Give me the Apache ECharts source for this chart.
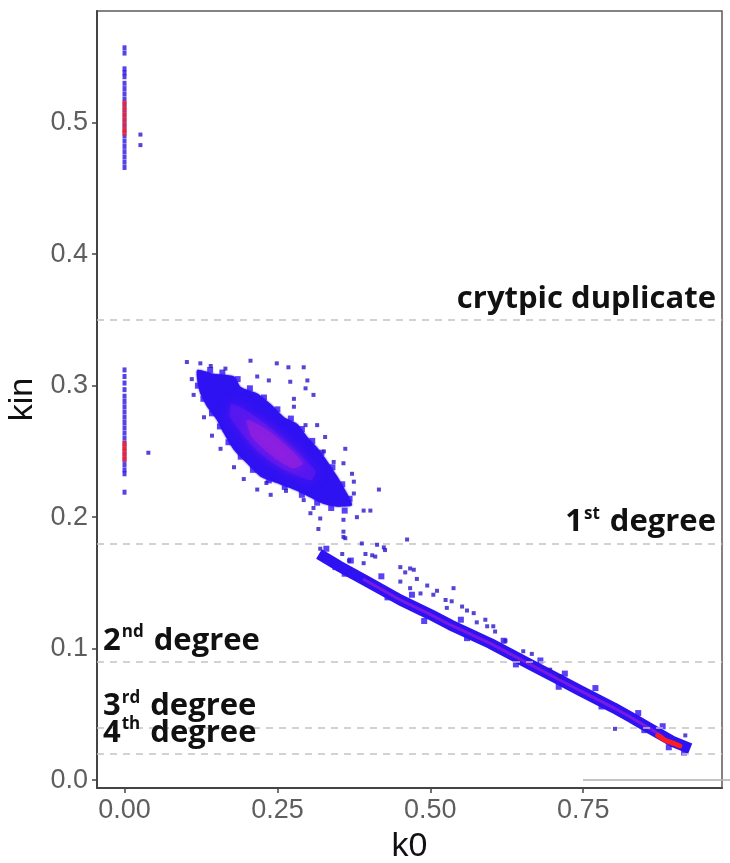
<!DOCTYPE html>
<html><head><meta charset="utf-8">
<script src="https://cdn.jsdelivr.net/npm/echarts@6/dist/echarts.min.js"></script>
<style>html,body{margin:0;padding:0;background:#fff;overflow:hidden}#c{width:730px;height:863px}</style>
</head><body><div id="c"></div>
<script>
// ---- data ----
const xTicks = [0, 0.25, 0.5, 0.75];
const yTicks = [0, 0.1, 0.2, 0.3, 0.4, 0.5];
const thresholds = [0.354, 0.177, 0.0884, 0.0442, 0.0221];
const thresholdLabels = [
  '{b|crytpic duplicate}',
  '{b|1}{s|st}{b| degree}',
  '{b|2}{s|nd}{b| degree}',
  '{b|3}{s|rd}{b| degree}',
  '{b|4}{s|th}{b| degree}'
];
const thresholdSide = ['end', 'end', 'start', 'start', 'start'];

// vertical strips at k0 = 0
const stripBlue = [[0,0.557],[0,0.553],[0,0.541],[0,0.538],[0,0.535],[0,0.530],[0,0.526],[0,0.522],[0,0.518],[0,0.514],[0,0.510],[0,0.506],[0,0.502],[0,0.498],[0,0.494],[0,0.490],[0,0.486],[0,0.482],[0,0.478],[0,0.474],[0,0.470],[0,0.466],
  [0,0.312],[0,0.307],[0,0.302],[0,0.297],[0,0.292],[0,0.288],[0,0.284],[0,0.280],[0,0.276],[0,0.272],[0,0.268],[0,0.264],[0,0.260],[0,0.256],[0,0.252],[0,0.248],[0,0.244],[0,0.240],[0,0.236],[0,0.233],[0,0.219]];
const stripRed = [[0,0.515],[0,0.511],[0,0.507],[0,0.503],[0,0.499],[0,0.495],[0,0.492],
  [0,0.256],[0,0.253],[0,0.250],[0,0.247],[0,0.244]];

// dense cloud (k0 0.12-0.38) outline, core and inner core
const cloudOutline = [[0.119,0.312],[0.146,0.309],[0.179,0.307],[0.190,0.299],[0.217,0.294],[0.239,0.286],[0.261,0.276],[0.282,0.271],[0.299,0.261],[0.315,0.253],[0.331,0.243],[0.348,0.231],[0.364,0.218],[0.372,0.209],
  [0.348,0.208],[0.326,0.210],[0.304,0.215],[0.277,0.221],[0.249,0.226],[0.222,0.231],[0.200,0.241],[0.179,0.251],[0.162,0.264],[0.151,0.274],[0.135,0.284],[0.124,0.294],[0.119,0.304]];
const cloudCore = [[0.175,0.286],[0.200,0.281],[0.230,0.271],[0.260,0.259],[0.290,0.246],[0.312,0.235],[0.305,0.228],[0.280,0.232],[0.250,0.239],[0.220,0.249],[0.195,0.262],[0.172,0.277]];
const cloudInner = [[0.200,0.274],[0.235,0.266],[0.268,0.253],[0.292,0.241],[0.275,0.237],[0.240,0.247],[0.208,0.261]];

// diagonal band (k0 0.32-0.93)
const bandLine = [[0.318,0.172],[0.350,0.163],[0.397,0.151],[0.451,0.137],[0.500,0.126],[0.533,0.118],[0.598,0.104],[0.663,0.088],[0.700,0.079],[0.745,0.068],[0.800,0.055],[0.827,0.048],[0.860,0.039],[0.898,0.029],[0.925,0.024]];
const bandCore = [[0.390,0.153],[0.451,0.137],[0.500,0.126],[0.533,0.118],[0.598,0.104],[0.663,0.088],[0.700,0.079],[0.745,0.068],[0.800,0.055],[0.827,0.048],[0.860,0.039],[0.880,0.033]];
const bandRed = [[0.872,0.034],[0.885,0.030],[0.898,0.028],[0.908,0.026]];

// sparse points around the dense areas
const sparse = [[0.026,0.491],[0.026,0.483],[0.039,0.249],
  [0.102,0.318],[0.124,0.317],[0.141,0.315],[0.165,0.313],[0.206,0.319],[0.249,0.317],[0.268,0.314],[0.293,0.314],
  [0.217,0.307],[0.236,0.304],[0.271,0.303],[0.299,0.304],[0.296,0.298],[0.309,0.293],[0.277,0.290],[0.277,0.284],
  [0.296,0.270],[0.315,0.270],[0.328,0.261],[0.326,0.250],[0.361,0.252],[0.342,0.242],[0.358,0.241],
  [0.372,0.233],[0.375,0.227],[0.416,0.221],[0.375,0.218],[0.391,0.205],[0.402,0.205],[0.380,0.200],
  [0.358,0.198],[0.320,0.199],[0.304,0.203],[0.309,0.207],[0.317,0.191],[0.358,0.189],[0.361,0.184],[0.293,0.213],
  [0.239,0.217],[0.217,0.221],[0.195,0.229],[0.179,0.238],[0.157,0.252],[0.143,0.262],[0.130,0.276],
  [0.113,0.293],[0.110,0.305],[0.264,0.220],[0.232,0.226],
  [0.358,0.185],[0.388,0.180],[0.413,0.179],[0.424,0.177],[0.462,0.183],[0.320,0.176],[0.356,0.172],[0.394,0.172],
  [0.405,0.171],[0.426,0.175],[0.367,0.167],[0.391,0.165],[0.410,0.170],
  [0.451,0.162],[0.467,0.161],[0.473,0.160],[0.459,0.158],[0.478,0.153],[0.451,0.151],[0.467,0.146],[0.495,0.148],
  [0.511,0.144],[0.538,0.146],[0.484,0.142],[0.505,0.141],[0.525,0.137],[0.535,0.136],[0.527,0.131],[0.552,0.132],
  [0.560,0.129],[0.576,0.120],[0.590,0.122],[0.603,0.117],[0.571,0.127],
  [0.593,0.117],[0.606,0.113],[0.623,0.106],[0.652,0.098],[0.666,0.096],[0.696,0.084],[0.712,0.079],[0.802,0.039],[0.917,0.034]];
// ragged blobs on the edges of the dense areas
const edgeBlobs = [[0.125,0.308],[0.140,0.312],[0.160,0.310],[0.185,0.305],[0.205,0.298],[0.228,0.291],[0.250,0.282],[0.272,0.275],[0.290,0.267],[0.307,0.258],[0.322,0.249],[0.340,0.238],[0.356,0.225],[0.368,0.214],
  [0.360,0.205],[0.338,0.207],[0.315,0.211],[0.290,0.217],[0.262,0.223],[0.236,0.228],[0.210,0.236],[0.190,0.246],[0.170,0.257],[0.156,0.269],[0.143,0.279],[0.129,0.290],[0.120,0.300],
  [0.330,0.176],[0.370,0.167],[0.420,0.155],[0.470,0.141],[0.550,0.122],[0.620,0.106],[0.680,0.091],[0.720,0.081],[0.770,0.070],[0.840,0.051],[0.880,0.041],
  [0.345,0.162],[0.360,0.157],[0.430,0.139],[0.490,0.121],[0.560,0.108],[0.640,0.088],[0.710,0.071],[0.780,0.056],[0.850,0.038],[0.890,0.025],[0.915,0.021]];

// ---- chart ----
const chart = echarts.init(document.getElementById('c'));
function polySeries(pts, fill, opacity, z, blur) {
  return {
    type: 'custom', coordinateSystem: 'cartesian2d', z: z, silent: true,
    data: pts, encode: {x: 0, y: 1},
    renderItem: function (params, api) {
      if (params.dataIndex !== 0) return null;
      return {type: 'polygon',
        shape: {points: pts.map(function (p) { return api.coord(p); }), smooth: 0.2},
        style: {fill: fill, opacity: opacity, shadowBlur: blur, shadowColor: fill}};
    }
  };
}
const markData = thresholds.map(function (v, i) {
  return {yAxis: v, label: {formatter: thresholdLabels[i],
    position: thresholdSide[i] === 'end' ? 'insideEndTop' : 'insideStartTop'}};
});
const rich = {
  b: {fontFamily: 'Open Sans', fontWeight: 'bold', fontSize: 31, color: '#111', lineHeight: 34},
  s: {fontFamily: 'Open Sans', fontWeight: 'bold', fontSize: 17, color: '#111', lineHeight: 34, verticalAlign: 'top', padding: [0, 2, 0, 1]}
};
chart.setOption({
  animation: false,
  grid: {left: 97, right: 8, top: 11, bottom: 75, containLabel: false, outerBoundsMode: 'none',
    show: true, borderColor: '#5a5a5a', borderWidth: 1.5},
  xAxis: {
    type: 'value', min: -0.045, max: 0.977,
    name: 'k0', nameLocation: 'middle', nameGap: 42,
    nameTextStyle: {fontFamily: 'Liberation Sans', fontSize: 34, color: '#111'},
    splitLine: {show: false},
    axisLine: {show: true, onZero: false, lineStyle: {color: '#444', width: 2}},
    axisTick: {show: true, length: 5, customValues: xTicks, lineStyle: {color: '#444', width: 1.5}},
    axisLabel: {customValues: xTicks, margin: 9, fontFamily: 'Liberation Sans', fontSize: 27, color: '#5e5e5e',
      formatter: function (v) { return v.toFixed(2); }}
  },
  yAxis: {
    type: 'value', min: -0.006, max: 0.585,
    name: 'kin', nameLocation: 'middle', nameGap: 56,
    nameTextStyle: {fontFamily: 'Liberation Sans', fontSize: 34, color: '#111'},
    splitLine: {show: false},
    axisLine: {show: true, onZero: false, lineStyle: {color: '#444', width: 2}},
    axisTick: {show: true, length: 5, customValues: yTicks, lineStyle: {color: '#444', width: 1.5}},
    axisLabel: {customValues: yTicks, margin: 9, fontFamily: 'Liberation Sans', fontSize: 27, color: '#5e5e5e',
      formatter: function (v) { return v.toFixed(1); }}
  },
  series: [
    {type: 'line', data: [], z: 1, silent: true,
      markLine: {silent: true, symbol: 'none', animation: false,
        lineStyle: {type: [7, 6], color: '#c4c4c4', width: 1.5},
        label: {show: true, distance: [6, 4], rich: rich},
        data: markData}},
    polySeries(cloudOutline, '#2f12f2', 1, 3, 2),
    polySeries(cloudCore, '#5a18f0', 0.8, 4, 12),
    polySeries(cloudInner, '#9a22dc', 0.6, 5, 12),
    {type: 'line', data: bandLine, z: 3, symbol: 'none', silent: true,
      lineStyle: {color: '#2f12f2', width: 11, cap: 'butt', join: 'round'}},
    {type: 'line', data: bandCore, z: 4, symbol: 'none', silent: true,
      lineStyle: {color: '#8a1ee0', width: 3, opacity: 0.8}},
    {type: 'line', data: bandRed, z: 5, symbol: 'none', silent: true,
      lineStyle: {color: '#ff1e1e', width: 5, cap: 'round'}},
    {type: 'scatter', data: edgeBlobs, z: 3, symbol: 'rect', symbolSize: 6, silent: true,
      itemStyle: {color: '#2f12f2'}},
    {type: 'scatter', data: sparse, z: 6, symbol: 'rect', symbolSize: 4, silent: true,
      itemStyle: {color: '#2a16c8'}},
    {type: 'scatter', data: stripBlue, z: 6, symbol: 'rect', symbolSize: [4, 5], silent: true,
      itemStyle: {color: '#2a14e0'}},
    {type: 'scatter', data: stripRed, z: 7, symbol: 'rect', symbolSize: [4, 5], silent: true,
      itemStyle: {color: '#ff2020'}}
  ],
  graphic: [{type: 'line', silent: true, shape: {x1: 583, y1: 780, x2: 730, y2: 780},
    style: {stroke: '#b0b0b0', lineWidth: 1.5}, z: 100}]
});
</script>
</body></html>
